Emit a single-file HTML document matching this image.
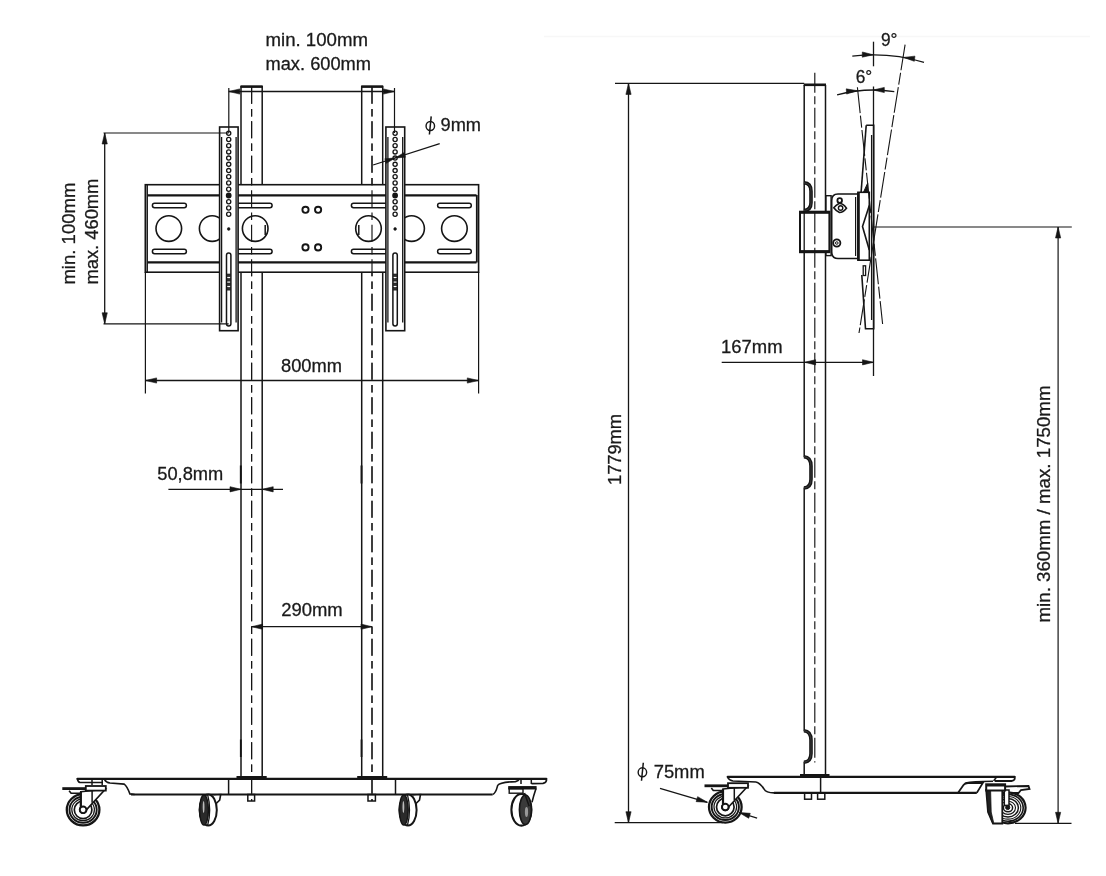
<!DOCTYPE html>
<html><head><meta charset="utf-8"><style>
html,body{margin:0;padding:0;background:#fff;}
svg{display:block;filter:grayscale(100%);}
text{font-family:"Liberation Sans",sans-serif;fill:#1a1a1a;stroke:#1a1a1a;stroke-width:0.28px;}
</style></head><body>
<svg width="1106" height="876" viewBox="0 0 1106 876">
<rect width="1106" height="876" fill="#fff"/>
<line x1="544.00" y1="36.50" x2="1090.00" y2="36.50" stroke="#f7f7f7" stroke-width="1.5" />
<rect x="240.50" y="85.30" width="22.20" height="2.60" rx="0" fill="#151515" stroke="#151515" stroke-width="0"/>
<line x1="241.00" y1="86.00" x2="241.00" y2="184.60" stroke="#151515" stroke-width="1.5" />
<line x1="262.20" y1="86.00" x2="262.20" y2="184.60" stroke="#151515" stroke-width="1.5" />
<line x1="241.00" y1="272.20" x2="241.00" y2="776.50" stroke="#151515" stroke-width="1.5" />
<line x1="262.20" y1="272.20" x2="262.20" y2="776.50" stroke="#151515" stroke-width="1.5" />
<line x1="251.60" y1="83.00" x2="251.60" y2="801.00" stroke="#151515" stroke-width="1.15" stroke-dasharray="17 5.2 7.5 4.8" stroke-dashoffset="30.8"/>
<rect x="236.50" y="776.00" width="30.20" height="2.80" rx="0" fill="#151515" stroke="#151515" stroke-width="0"/>
<line x1="240.80" y1="465.50" x2="240.80" y2="483.50" stroke="#151515" stroke-width="1.9" />
<line x1="240.80" y1="739.50" x2="240.80" y2="757.00" stroke="#151515" stroke-width="1.8" />
<rect x="361.20" y="85.30" width="22.00" height="2.60" rx="0" fill="#151515" stroke="#151515" stroke-width="0"/>
<line x1="361.70" y1="86.00" x2="361.70" y2="184.60" stroke="#151515" stroke-width="1.5" />
<line x1="382.70" y1="86.00" x2="382.70" y2="184.60" stroke="#151515" stroke-width="1.5" />
<line x1="361.70" y1="272.20" x2="361.70" y2="776.50" stroke="#151515" stroke-width="1.5" />
<line x1="382.70" y1="272.20" x2="382.70" y2="776.50" stroke="#151515" stroke-width="1.5" />
<line x1="372.00" y1="83.00" x2="372.00" y2="801.00" stroke="#151515" stroke-width="1.15" stroke-dasharray="17 5.2 7.5 4.8" stroke-dashoffset="30.8"/>
<rect x="357.20" y="776.00" width="30.00" height="2.80" rx="0" fill="#151515" stroke="#151515" stroke-width="0"/>
<line x1="361.50" y1="465.50" x2="361.50" y2="483.50" stroke="#151515" stroke-width="1.9" />
<line x1="361.50" y1="739.50" x2="361.50" y2="757.00" stroke="#151515" stroke-width="1.8" />
<rect x="145.30" y="184.70" width="333.30" height="87.50" rx="0" fill="white" stroke="#151515" stroke-width="1.6"/>
<line x1="147.50" y1="195.30" x2="476.50" y2="195.30" stroke="#151515" stroke-width="2.2" />
<line x1="147.50" y1="262.40" x2="476.50" y2="262.40" stroke="#151515" stroke-width="2.2" />
<line x1="147.20" y1="184.70" x2="147.20" y2="272.20" stroke="#151515" stroke-width="1.5" />
<line x1="476.80" y1="195.00" x2="476.80" y2="262.50" stroke="#151515" stroke-width="1.8" />
<rect x="152.40" y="203.30" width="34.00" height="4.40" rx="2.2" fill="none" stroke="#151515" stroke-width="1.5"/>
<rect x="237.00" y="203.30" width="35.10" height="4.40" rx="2.2" fill="none" stroke="#151515" stroke-width="1.5"/>
<rect x="351.40" y="203.30" width="35.60" height="4.40" rx="2.2" fill="none" stroke="#151515" stroke-width="1.5"/>
<rect x="437.60" y="203.30" width="33.70" height="4.40" rx="2.2" fill="none" stroke="#151515" stroke-width="1.5"/>
<rect x="152.40" y="249.30" width="34.00" height="4.40" rx="2.2" fill="none" stroke="#151515" stroke-width="1.5"/>
<rect x="237.00" y="249.30" width="35.10" height="4.40" rx="2.2" fill="none" stroke="#151515" stroke-width="1.5"/>
<rect x="351.40" y="249.30" width="35.60" height="4.40" rx="2.2" fill="none" stroke="#151515" stroke-width="1.5"/>
<rect x="437.60" y="249.30" width="33.70" height="4.40" rx="2.2" fill="none" stroke="#151515" stroke-width="1.5"/>
<circle cx="168.80" cy="228.60" r="12.80" fill="none" stroke="#151515" stroke-width="1.6"/>
<circle cx="212.20" cy="228.60" r="12.80" fill="none" stroke="#151515" stroke-width="1.6"/>
<circle cx="255.20" cy="228.60" r="12.80" fill="none" stroke="#151515" stroke-width="1.6"/>
<circle cx="368.50" cy="228.60" r="12.80" fill="none" stroke="#151515" stroke-width="1.6"/>
<circle cx="411.60" cy="228.60" r="12.80" fill="none" stroke="#151515" stroke-width="1.6"/>
<circle cx="454.40" cy="228.60" r="12.80" fill="none" stroke="#151515" stroke-width="1.6"/>
<line x1="265.20" y1="225.00" x2="265.20" y2="235.00" stroke="#151515" stroke-width="1.5" />
<line x1="358.80" y1="225.00" x2="358.80" y2="235.00" stroke="#151515" stroke-width="1.5" />
<circle cx="305.50" cy="209.80" r="3.10" fill="none" stroke="#151515" stroke-width="1.9"/>
<circle cx="318.10" cy="209.80" r="3.10" fill="none" stroke="#151515" stroke-width="1.9"/>
<circle cx="305.50" cy="247.40" r="3.10" fill="none" stroke="#151515" stroke-width="1.9"/>
<circle cx="318.10" cy="247.40" r="3.10" fill="none" stroke="#151515" stroke-width="1.9"/>
<line x1="251.60" y1="83.00" x2="251.60" y2="801.00" stroke="#151515" stroke-width="1.15" stroke-dasharray="17 5.2 7.5 4.8" stroke-dashoffset="30.8"/>
<line x1="372.00" y1="83.00" x2="372.00" y2="801.00" stroke="#151515" stroke-width="1.15" stroke-dasharray="17 5.2 7.5 4.8" stroke-dashoffset="30.8"/>
<rect x="219.60" y="127.00" width="18.50" height="203.70" rx="0" fill="white" stroke="#151515" stroke-width="1.6"/>
<line x1="221.60" y1="137.00" x2="221.60" y2="322.50" stroke="#151515" stroke-width="1.3" />
<line x1="236.10" y1="137.00" x2="236.10" y2="322.50" stroke="#151515" stroke-width="1.3" />
<circle cx="228.70" cy="133.20" r="2.10" fill="white" stroke="#151515" stroke-width="1.3"/>
<circle cx="228.70" cy="139.43" r="2.10" fill="white" stroke="#151515" stroke-width="1.3"/>
<circle cx="228.70" cy="145.66" r="2.10" fill="white" stroke="#151515" stroke-width="1.3"/>
<circle cx="228.70" cy="151.89" r="2.10" fill="white" stroke="#151515" stroke-width="1.3"/>
<circle cx="228.70" cy="158.12" r="2.10" fill="white" stroke="#151515" stroke-width="1.3"/>
<circle cx="228.70" cy="164.35" r="2.10" fill="white" stroke="#151515" stroke-width="1.3"/>
<circle cx="228.70" cy="170.58" r="2.10" fill="white" stroke="#151515" stroke-width="1.3"/>
<circle cx="228.70" cy="176.81" r="2.10" fill="white" stroke="#151515" stroke-width="1.3"/>
<circle cx="228.70" cy="183.04" r="2.10" fill="white" stroke="#151515" stroke-width="1.3"/>
<circle cx="228.70" cy="189.27" r="2.10" fill="white" stroke="#151515" stroke-width="1.3"/>
<circle cx="228.70" cy="195.50" r="2.10" fill="#151515" stroke="#151515" stroke-width="1.6"/>
<circle cx="228.70" cy="201.73" r="2.10" fill="white" stroke="#151515" stroke-width="1.3"/>
<circle cx="228.70" cy="207.96" r="2.10" fill="white" stroke="#151515" stroke-width="1.3"/>
<circle cx="228.70" cy="214.19" r="2.10" fill="white" stroke="#151515" stroke-width="1.3"/>
<circle cx="228.70" cy="229.00" r="1.40" fill="#151515" stroke="#151515" stroke-width="0.5"/>
<rect x="226.50" y="253.00" width="4.40" height="73.00" rx="2.2" fill="white" stroke="#151515" stroke-width="1.5"/>
<rect x="226.90" y="274.00" width="3.60" height="2.60" rx="0" fill="#333" stroke="#151515" stroke-width="0.6"/>
<rect x="226.90" y="278.50" width="3.60" height="2.60" rx="0" fill="#333" stroke="#151515" stroke-width="0.6"/>
<rect x="226.90" y="283.00" width="3.60" height="2.60" rx="0" fill="#333" stroke="#151515" stroke-width="0.6"/>
<rect x="226.90" y="287.50" width="3.60" height="2.60" rx="0" fill="#333" stroke="#151515" stroke-width="0.6"/>
<rect x="385.90" y="127.00" width="18.80" height="203.70" rx="0" fill="white" stroke="#151515" stroke-width="1.6"/>
<line x1="387.90" y1="137.00" x2="387.90" y2="322.50" stroke="#151515" stroke-width="1.3" />
<line x1="402.70" y1="137.00" x2="402.70" y2="322.50" stroke="#151515" stroke-width="1.3" />
<circle cx="395.10" cy="133.20" r="2.10" fill="white" stroke="#151515" stroke-width="1.3"/>
<circle cx="395.10" cy="139.43" r="2.10" fill="white" stroke="#151515" stroke-width="1.3"/>
<circle cx="395.10" cy="145.66" r="2.10" fill="white" stroke="#151515" stroke-width="1.3"/>
<circle cx="395.10" cy="151.89" r="2.10" fill="white" stroke="#151515" stroke-width="1.3"/>
<circle cx="395.10" cy="158.12" r="2.10" fill="white" stroke="#151515" stroke-width="1.3"/>
<circle cx="395.10" cy="164.35" r="2.10" fill="white" stroke="#151515" stroke-width="1.3"/>
<circle cx="395.10" cy="170.58" r="2.10" fill="white" stroke="#151515" stroke-width="1.3"/>
<circle cx="395.10" cy="176.81" r="2.10" fill="white" stroke="#151515" stroke-width="1.3"/>
<circle cx="395.10" cy="183.04" r="2.10" fill="white" stroke="#151515" stroke-width="1.3"/>
<circle cx="395.10" cy="189.27" r="2.10" fill="white" stroke="#151515" stroke-width="1.3"/>
<circle cx="395.10" cy="195.50" r="2.10" fill="#151515" stroke="#151515" stroke-width="1.6"/>
<circle cx="395.10" cy="201.73" r="2.10" fill="white" stroke="#151515" stroke-width="1.3"/>
<circle cx="395.10" cy="207.96" r="2.10" fill="white" stroke="#151515" stroke-width="1.3"/>
<circle cx="395.10" cy="214.19" r="2.10" fill="white" stroke="#151515" stroke-width="1.3"/>
<circle cx="395.10" cy="229.00" r="1.40" fill="#151515" stroke="#151515" stroke-width="0.5"/>
<rect x="392.90" y="253.00" width="4.40" height="73.00" rx="2.2" fill="white" stroke="#151515" stroke-width="1.5"/>
<rect x="393.30" y="274.00" width="3.60" height="2.60" rx="0" fill="#333" stroke="#151515" stroke-width="0.6"/>
<rect x="393.30" y="278.50" width="3.60" height="2.60" rx="0" fill="#333" stroke="#151515" stroke-width="0.6"/>
<rect x="393.30" y="283.00" width="3.60" height="2.60" rx="0" fill="#333" stroke="#151515" stroke-width="0.6"/>
<rect x="393.30" y="287.50" width="3.60" height="2.60" rx="0" fill="#333" stroke="#151515" stroke-width="0.6"/>
<line x1="228.80" y1="88.00" x2="228.80" y2="133.00" stroke="#151515" stroke-width="1.2" />
<line x1="394.50" y1="88.00" x2="394.50" y2="133.00" stroke="#151515" stroke-width="1.2" />
<line x1="228.80" y1="91.50" x2="394.40" y2="91.50" stroke="#151515" stroke-width="1.3" />
<path d="M228.80,91.50 L239.80,88.90 L239.80,94.10 Z" fill="#151515" stroke="#151515" stroke-width="0.6"/>
<path d="M394.40,91.50 L383.40,94.10 L383.40,88.90 Z" fill="#151515" stroke="#151515" stroke-width="0.6"/>
<text x="265.5" y="45.9" font-size="17.5" textLength="102.5" lengthAdjust="spacingAndGlyphs">min. 100mm</text>
<text x="265.5" y="69.8" font-size="17.5" textLength="105.5" lengthAdjust="spacingAndGlyphs">max. 600mm</text>
<line x1="373.10" y1="165.00" x2="439.70" y2="143.70" stroke="#151515" stroke-width="1.3" />
<path d="M395.10,158.00 L386.31,163.33 L384.84,158.76 Z" fill="#151515" stroke="#151515" stroke-width="0.6"/>
<path d="M395.10,158.00 L403.89,152.67 L405.36,157.24 Z" fill="#151515" stroke="#151515" stroke-width="0.6"/>
<ellipse cx="430.30" cy="126.00" rx="4.25" ry="4.50" fill="none" stroke="#151515" stroke-width="1.4"/>
<line x1="431.20" y1="116.40" x2="429.40" y2="134.50" stroke="#151515" stroke-width="1.5" />
<text x="440.5" y="130.9" font-size="17.5" textLength="40.5" lengthAdjust="spacingAndGlyphs">9mm</text>
<line x1="103.50" y1="133.00" x2="228.70" y2="133.00" stroke="#151515" stroke-width="1.2" />
<line x1="103.50" y1="323.80" x2="228.70" y2="323.80" stroke="#151515" stroke-width="1.2" />
<line x1="104.70" y1="133.00" x2="104.70" y2="323.80" stroke="#151515" stroke-width="1.3" />
<path d="M104.70,133.00 L107.30,144.00 L102.10,144.00 Z" fill="#151515" stroke="#151515" stroke-width="0.6"/>
<path d="M104.70,323.80 L102.10,312.80 L107.30,312.80 Z" fill="#151515" stroke="#151515" stroke-width="0.6"/>
<text x="0" y="0" transform="translate(75.3,284.6) rotate(-90)" font-size="17.5" textLength="102" lengthAdjust="spacingAndGlyphs">min. 100mm</text>
<text x="0" y="0" transform="translate(97.8,284.6) rotate(-90)" font-size="17.5" textLength="106" lengthAdjust="spacingAndGlyphs">max. 460mm</text>
<line x1="145.40" y1="272.00" x2="145.40" y2="393.50" stroke="#151515" stroke-width="1.2" />
<line x1="478.60" y1="272.00" x2="478.60" y2="393.50" stroke="#151515" stroke-width="1.2" />
<line x1="145.60" y1="380.50" x2="478.30" y2="380.50" stroke="#151515" stroke-width="1.3" />
<path d="M145.60,380.50 L156.60,377.90 L156.60,383.10 Z" fill="#151515" stroke="#151515" stroke-width="0.6"/>
<path d="M478.30,380.50 L467.30,383.10 L467.30,377.90 Z" fill="#151515" stroke="#151515" stroke-width="0.6"/>
<text x="281" y="372" font-size="17.5" textLength="61" lengthAdjust="spacingAndGlyphs">800mm</text>
<line x1="168.40" y1="489.30" x2="283.00" y2="489.30" stroke="#151515" stroke-width="1.3" />
<path d="M241.00,489.30 L230.00,491.90 L230.00,486.70 Z" fill="#151515" stroke="#151515" stroke-width="0.6"/>
<path d="M262.20,489.30 L273.20,486.70 L273.20,491.90 Z" fill="#151515" stroke="#151515" stroke-width="0.6"/>
<text x="157.3" y="480.2" font-size="17.5" textLength="66" lengthAdjust="spacingAndGlyphs">50,8mm</text>
<line x1="251.60" y1="626.70" x2="372.00" y2="626.70" stroke="#151515" stroke-width="1.3" />
<path d="M251.60,626.70 L262.60,624.10 L262.60,629.30 Z" fill="#151515" stroke="#151515" stroke-width="0.6"/>
<path d="M372.00,626.70 L361.00,629.30 L361.00,624.10 Z" fill="#151515" stroke="#151515" stroke-width="0.6"/>
<text x="281.2" y="615.8" font-size="17.5" textLength="61.5" lengthAdjust="spacingAndGlyphs">290mm</text>
<line x1="77.40" y1="778.80" x2="546.30" y2="778.80" stroke="#151515" stroke-width="2.2" stroke-linecap="round"/>
<line x1="131.00" y1="794.50" x2="492.60" y2="794.50" stroke="#151515" stroke-width="2.2" />
<path d="M104.6,779.6 Q106,782.5 110,783 L124.2,784.1 Q127,786 129.9,793.9 L134.7,794.5" fill="none" stroke="#151515" stroke-width="1.6" />
<line x1="228.60" y1="779.00" x2="228.60" y2="794.50" stroke="#151515" stroke-width="1.5" />
<line x1="395.50" y1="779.00" x2="395.50" y2="794.50" stroke="#151515" stroke-width="1.5" />
<rect x="247.80" y="794.50" width="6.80" height="6.50" rx="0" fill="none" stroke="#151515" stroke-width="1.5"/>
<rect x="368.00" y="794.50" width="7.40" height="6.50" rx="0" fill="none" stroke="#151515" stroke-width="1.5"/>
<ellipse cx="83.10" cy="809.80" rx="16.30" ry="15.60" fill="white" stroke="#151515" stroke-width="2.3"/>
<ellipse cx="83.10" cy="809.80" rx="13.60" ry="13.00" fill="none" stroke="#151515" stroke-width="1.9"/>
<ellipse cx="83.10" cy="809.80" rx="11.30" ry="10.90" fill="none" stroke="#151515" stroke-width="1.2"/>
<circle cx="83.10" cy="809.80" r="8.80" fill="none" stroke="#151515" stroke-width="1.7"/>
<circle cx="83.10" cy="809.80" r="3.30" fill="white" stroke="#151515" stroke-width="1.9"/>
<path d="M80.80,791.80 L105.30,789.30 L86.10,810.10 L80.80,806.80 Z" fill="white" stroke="#151515" stroke-width="1.6" />
<line x1="80.80" y1="791.80" x2="80.80" y2="806.80" stroke="#151515" stroke-width="2.2" />
<line x1="92.10" y1="789.80" x2="92.10" y2="802.80" stroke="#151515" stroke-width="1.5" />
<circle cx="83.10" cy="809.80" r="3.30" fill="white" stroke="#151515" stroke-width="1.9"/>
<rect x="85.80" y="786.00" width="20.00" height="4.60" rx="0" fill="white" stroke="#151515" stroke-width="1.8"/>
<path d="M62.30,788.60 L85.80,788.60" fill="none" stroke="#151515" stroke-width="2.8" />
<path d="M69.10,790.80 L71.10,793.30 L80.80,793.30" fill="none" stroke="#151515" stroke-width="1.6" />
<path d="M77.4,779 Q78,782 80,782.5 L103,782.5" fill="none" stroke="#151515" stroke-width="1.6" />
<line x1="92.00" y1="779.00" x2="92.00" y2="785.00" stroke="#151515" stroke-width="1.5" />
<line x1="102.20" y1="779.00" x2="102.20" y2="785.00" stroke="#151515" stroke-width="1.5" />
<path d="M213.2,795 L220.7,794.5 L219.7,800 L215.7,804" fill="white" stroke="#151515" stroke-width="1.6" />
<ellipse cx="208.20" cy="810.00" rx="8.60" ry="15.60" fill="white" stroke="#151515" stroke-width="2.0"/>
<ellipse cx="204.00" cy="810.00" rx="4.40" ry="15.00" fill="#2a2a2a" stroke="#151515" stroke-width="1.5"/>
<ellipse cx="203.60" cy="807.00" rx="0.90" ry="6.00" fill="#bbb" stroke="#151515" stroke-width="0"/>
<path d="M207.7,794.8 Q211.7,810 207.7,825.2" fill="none" stroke="#151515" stroke-width="1.3" />
<path d="M413,795 L420.5,794.5 L419.5,800 L415.5,804" fill="white" stroke="#151515" stroke-width="1.6" />
<ellipse cx="408.00" cy="810.00" rx="8.60" ry="15.60" fill="white" stroke="#151515" stroke-width="2.0"/>
<ellipse cx="403.80" cy="810.00" rx="4.40" ry="15.00" fill="#2a2a2a" stroke="#151515" stroke-width="1.5"/>
<ellipse cx="403.40" cy="807.00" rx="0.90" ry="6.00" fill="#bbb" stroke="#151515" stroke-width="0"/>
<path d="M407.5,794.8 Q411.5,810 407.5,825.2" fill="none" stroke="#151515" stroke-width="1.3" />
<path d="M492.6,794.5 Q495.5,794 497.7,785.4 Q500,782 515.5,781.6 Q518.5,781 519.5,779" fill="none" stroke="#151515" stroke-width="1.6" />
<path d="M546.3,779 Q547,782.5 543,783.4 L531.5,783.6" fill="none" stroke="#151515" stroke-width="1.8" />
<line x1="521.00" y1="779.00" x2="521.00" y2="784.00" stroke="#151515" stroke-width="1.5" />
<line x1="531.30" y1="779.00" x2="531.30" y2="784.00" stroke="#151515" stroke-width="1.5" />
<path d="M536,788.5 Q533.5,796 532,802.2" fill="none" stroke="#151515" stroke-width="1.6" />
<ellipse cx="521.40" cy="809.80" rx="10.00" ry="15.80" fill="white" stroke="#151515" stroke-width="2.1"/>
<ellipse cx="525.40" cy="809.80" rx="6.00" ry="14.80" fill="#3a3a3a" stroke="#151515" stroke-width="1.6"/>
<ellipse cx="526.50" cy="812.00" rx="1.60" ry="5.00" fill="#999" stroke="#151515" stroke-width="0"/>
<path d="M524.5,793 L529.2,806.3" fill="none" stroke="#151515" stroke-width="1.6" />
<rect x="508.70" y="786.60" width="27.40" height="2.40" rx="0" fill="#151515" stroke="#151515" stroke-width="1.0"/>
<rect x="509.20" y="789.00" width="13.80" height="4.20" rx="0" fill="white" stroke="#151515" stroke-width="1.4"/>
<rect x="803.70" y="83.50" width="22.30" height="2.60" rx="0" fill="#151515" stroke="#151515" stroke-width="0"/>
<line x1="804.20" y1="85.00" x2="804.20" y2="774.50" stroke="#151515" stroke-width="1.5" />
<line x1="825.50" y1="85.00" x2="825.50" y2="774.50" stroke="#151515" stroke-width="1.5" />
<line x1="814.80" y1="70.00" x2="814.80" y2="762.50" stroke="#151515" stroke-width="1.15" stroke-dasharray="20 3.5 8 3.5" stroke-dashoffset="32.3"/>
<path d="M803.9000000000001,182.8 Q811.0,183.3 811.0,191.14000000000001 L811.0,202.816 Q811.0,210.1 803.9000000000001,210.6" fill="none" stroke="#151515" stroke-width="3.6" />
<path d="M803.9000000000001,182.8 Q811.0,183.3 811.0,191.14000000000001 L811.0,202.816 Q811.0,210.1 803.9000000000001,210.6" fill="none" stroke="#555" stroke-width="0.6" />
<rect x="803.00" y="457.20" width="2.40" height="30.30" rx="0" fill="white" stroke="none" stroke-width="0"/>
<path d="M803.9000000000001,456.7 Q811.0,457.2 811.0,466.09 L811.0,479.236 Q811.0,487.5 803.9000000000001,488" fill="none" stroke="#151515" stroke-width="3.6" />
<path d="M803.9000000000001,456.7 Q811.0,457.2 811.0,466.09 L811.0,479.236 Q811.0,487.5 803.9000000000001,488" fill="none" stroke="#555" stroke-width="0.6" />
<rect x="803.00" y="731.30" width="2.40" height="30.40" rx="0" fill="white" stroke="none" stroke-width="0"/>
<path d="M803.9000000000001,730.8 Q811.0,731.3 811.0,740.22 L811.0,753.408 Q811.0,761.7 803.9000000000001,762.2" fill="none" stroke="#151515" stroke-width="3.6" />
<path d="M803.9000000000001,730.8 Q811.0,731.3 811.0,740.22 L811.0,753.408 Q811.0,761.7 803.9000000000001,762.2" fill="none" stroke="#555" stroke-width="0.6" />
<rect x="826.00" y="195.70" width="5.10" height="59.90" rx="0" fill="white" stroke="#151515" stroke-width="1.4"/>
<rect x="800.00" y="211.70" width="29.40" height="40.50" rx="0" fill="white" stroke="#151515" stroke-width="2.0"/>
<line x1="800.00" y1="212.50" x2="829.40" y2="212.50" stroke="#151515" stroke-width="2.6" />
<line x1="800.00" y1="251.40" x2="829.40" y2="251.40" stroke="#151515" stroke-width="2.6" />
<line x1="814.80" y1="211.70" x2="814.80" y2="252.20" stroke="#151515" stroke-width="1.15" stroke-dasharray="20 3.5 8 3.5" stroke-dashoffset="174.0"/>
<line x1="804.20" y1="212.00" x2="804.20" y2="252.00" stroke="#151515" stroke-width="1.3" />
<path d="M857.4,194 L838,194 Q831.7,194 831.7,200.5 L831.7,252 Q831.7,258.5 838,258.5 L857.4,258.5" fill="white" stroke="#151515" stroke-width="1.6" />
<line x1="855.60" y1="197.00" x2="855.60" y2="256.00" stroke="#151515" stroke-width="1.2" />
<circle cx="839.70" cy="200.50" r="2.30" fill="none" stroke="#151515" stroke-width="1.8"/>
<path d="M833.8,207.8 Q836,205 839,203.5 Q843,203 846.5,208.2 Q843,212.5 839.5,212.5 Q836,211 833.8,207.8 Z" fill="white" stroke="#151515" stroke-width="1.6" />
<circle cx="840.60" cy="208.00" r="2.20" fill="none" stroke="#151515" stroke-width="1.4"/>
<circle cx="836.80" cy="243.00" r="3.60" fill="none" stroke="#151515" stroke-width="1.8"/>
<circle cx="836.80" cy="243.00" r="1.30" fill="none" stroke="#151515" stroke-width="1.0"/>
<rect x="857.90" y="192.30" width="11.40" height="67.90" rx="0" fill="white" stroke="#151515" stroke-width="1.6"/>
<line x1="858.50" y1="192.30" x2="858.50" y2="260.20" stroke="#151515" stroke-width="2.6" />
<path d="M869.3,205.4 L862.5,226.5 L869.3,250" fill="none" stroke="#151515" stroke-width="1.6" />
<path d="M866.2,125.2 L873.7,125.2 L873.7,328.7 L865.5,328.7 L861.8,275" fill="none" stroke="#151515" stroke-width="1.6" />
<path d="M866.2,125.2 L861.1,192.2" fill="none" stroke="#151515" stroke-width="1.6" />
<line x1="871.60" y1="135.00" x2="871.60" y2="320.00" stroke="#151515" stroke-width="1.3" />
<path d="M863.6,192 L867.7,183 L867.7,192 Z" fill="#151515" stroke="#151515" stroke-width="1.0" />
<rect x="863.20" y="265.80" width="2.40" height="9.70" rx="0" fill="none" stroke="#151515" stroke-width="1.3"/>
<line x1="873.50" y1="41.70" x2="873.50" y2="66.30" stroke="#151515" stroke-width="1.3" />
<line x1="873.50" y1="86.50" x2="873.50" y2="376.00" stroke="#151515" stroke-width="1.3" />
<line x1="905.10" y1="44.60" x2="859.00" y2="333.00" stroke="#151515" stroke-width="1.1" stroke-dasharray="26 2.5 12 2.5"/>
<line x1="857.40" y1="87.30" x2="882.60" y2="324.00" stroke="#151515" stroke-width="1.1" stroke-dasharray="26 2.5 12 2.5"/>
<path d="M852.3,56.2 A173.2,173.2 0 0 1 924,62.3" fill="none" stroke="#151515" stroke-width="1.3" />
<path d="M873.30,54.80 L862.25,57.18 L862.35,51.98 Z" fill="#151515" stroke="#151515" stroke-width="0.6"/>
<path d="M903.70,57.40 L914.93,56.13 L914.31,61.29 Z" fill="#151515" stroke="#151515" stroke-width="0.6"/>
<path d="M837.1,94.9 A138,138 0 0 1 894.3,91.6" fill="none" stroke="#151515" stroke-width="1.3" />
<path d="M857.40,90.70 L846.61,94.06 L846.25,88.87 Z" fill="#151515" stroke="#151515" stroke-width="0.6"/>
<path d="M873.30,90.00 L884.30,87.40 L884.30,92.60 Z" fill="#151515" stroke="#151515" stroke-width="0.6"/>
<text x="881" y="46.3" font-size="17.5" textLength="16.5" lengthAdjust="spacingAndGlyphs">9°</text>
<text x="855.7" y="83.2" font-size="17.5" textLength="16.5" lengthAdjust="spacingAndGlyphs">6°</text>
<line x1="721.70" y1="362.30" x2="873.60" y2="362.30" stroke="#151515" stroke-width="1.3" />
<path d="M804.60,362.30 L815.60,359.70 L815.60,364.90 Z" fill="#151515" stroke="#151515" stroke-width="0.6"/>
<path d="M873.50,362.30 L862.50,364.90 L862.50,359.70 Z" fill="#151515" stroke="#151515" stroke-width="0.6"/>
<text x="721" y="352.7" font-size="17.5" textLength="61.5" lengthAdjust="spacingAndGlyphs">167mm</text>
<line x1="873.50" y1="227.00" x2="1071.80" y2="227.00" stroke="#151515" stroke-width="1.2" />
<line x1="1058.10" y1="227.00" x2="1058.10" y2="823.30" stroke="#151515" stroke-width="1.2" />
<path d="M1058.10,227.00 L1060.70,238.00 L1055.50,238.00 Z" fill="#151515" stroke="#151515" stroke-width="0.6"/>
<path d="M1058.10,823.30 L1055.50,812.30 L1060.70,812.30 Z" fill="#151515" stroke="#151515" stroke-width="0.6"/>
<text x="0" y="0" transform="translate(1049.8,622.5) rotate(-90)" font-size="17.5" textLength="237" lengthAdjust="spacingAndGlyphs">min. 360mm / max. 1750mm</text>
<line x1="615.00" y1="83.40" x2="804.20" y2="83.40" stroke="#151515" stroke-width="1.3" />
<line x1="628.50" y1="83.40" x2="628.50" y2="822.70" stroke="#151515" stroke-width="1.3" />
<path d="M628.50,83.40 L631.10,94.40 L625.90,94.40 Z" fill="#151515" stroke="#151515" stroke-width="0.6"/>
<path d="M628.50,822.70 L625.90,811.70 L631.10,811.70 Z" fill="#151515" stroke="#151515" stroke-width="0.6"/>
<text x="0" y="0" transform="translate(621.2,485) rotate(-90)" font-size="17.5" textLength="71" lengthAdjust="spacingAndGlyphs">1779mm</text>
<line x1="614.70" y1="822.70" x2="723.00" y2="822.70" stroke="#151515" stroke-width="1.3" />
<line x1="1015.00" y1="823.30" x2="1071.50" y2="823.30" stroke="#151515" stroke-width="1.3" />
<line x1="727.70" y1="776.80" x2="1014.60" y2="776.80" stroke="#151515" stroke-width="2.2" stroke-linecap="round"/>
<line x1="774.00" y1="792.90" x2="976.80" y2="792.90" stroke="#151515" stroke-width="2.2" />
<path d="M756,782 Q760,783 764,789 Q766,792.9 774,792.9" fill="none" stroke="#151515" stroke-width="1.6" />
<path d="M957.9,792.9 L963.5,785 Q965,783 968,783 L982.8,783 L976.8,792.9" fill="none" stroke="#151515" stroke-width="1.8" />
<path d="M965.6,783 Q972,781.6 993,781.3" fill="none" stroke="#151515" stroke-width="1.5" />
<path d="M1014.6,776.8 Q1015.5,780.6 1011.5,781 L994.8,781" fill="none" stroke="#151515" stroke-width="1.8" />
<line x1="996.80" y1="776.80" x2="993.60" y2="781.00" stroke="#151515" stroke-width="1.5" />
<line x1="820.60" y1="777.00" x2="820.60" y2="793.00" stroke="#151515" stroke-width="1.5" />
<rect x="800.00" y="774.00" width="29.50" height="3.00" rx="0" fill="#151515" stroke="#151515" stroke-width="0"/>
<rect x="804.60" y="793.00" width="6.90" height="6.20" rx="0" fill="none" stroke="#151515" stroke-width="1.5"/>
<rect x="817.60" y="793.00" width="7.20" height="6.20" rx="0" fill="none" stroke="#151515" stroke-width="1.5"/>
<ellipse cx="725.30" cy="807.00" rx="16.30" ry="15.60" fill="white" stroke="#151515" stroke-width="2.3"/>
<ellipse cx="725.30" cy="807.00" rx="13.60" ry="13.00" fill="none" stroke="#151515" stroke-width="1.9"/>
<ellipse cx="725.30" cy="807.00" rx="11.30" ry="10.90" fill="none" stroke="#151515" stroke-width="1.2"/>
<circle cx="725.30" cy="807.00" r="8.80" fill="none" stroke="#151515" stroke-width="1.7"/>
<circle cx="725.30" cy="807.00" r="3.30" fill="white" stroke="#151515" stroke-width="1.9"/>
<path d="M723.00,789.00 L747.50,786.50 L728.30,807.30 L723.00,804.00 Z" fill="white" stroke="#151515" stroke-width="1.6" />
<line x1="723.00" y1="789.00" x2="723.00" y2="804.00" stroke="#151515" stroke-width="2.2" />
<line x1="734.30" y1="787.00" x2="734.30" y2="800.00" stroke="#151515" stroke-width="1.5" />
<circle cx="725.30" cy="807.00" r="3.30" fill="white" stroke="#151515" stroke-width="1.9"/>
<rect x="728.00" y="783.20" width="20.00" height="4.60" rx="0" fill="white" stroke="#151515" stroke-width="1.8"/>
<path d="M704.50,785.80 L728.00,785.80" fill="none" stroke="#151515" stroke-width="2.8" />
<path d="M711.30,788.00 L713.30,790.50 L723.00,790.50" fill="none" stroke="#151515" stroke-width="1.6" />
<path d="M727.5,777 Q729,780.5 733,781 L756,782" fill="none" stroke="#151515" stroke-width="1.6" />
<path d="M660,788.3 L707.4,802.3" fill="none" stroke="#151515" stroke-width="1.3" />
<path d="M707.40,802.30 L696.12,801.63 L697.61,796.65 Z" fill="#151515" stroke="#151515" stroke-width="0.6"/>
<path d="M757.1,818.2 L739,812.5" fill="none" stroke="#151515" stroke-width="1.3" />
<path d="M739.00,812.50 L750.27,813.33 L748.71,818.28 Z" fill="#151515" stroke="#151515" stroke-width="0.6"/>
<ellipse cx="642.40" cy="772.30" rx="4.25" ry="4.50" fill="none" stroke="#151515" stroke-width="1.4"/>
<line x1="643.30" y1="762.70" x2="641.50" y2="780.80" stroke="#151515" stroke-width="1.5" />
<text x="653.7" y="778.1" font-size="17.5" textLength="51" lengthAdjust="spacingAndGlyphs">75mm</text>
<ellipse cx="1008.00" cy="807.80" rx="17.60" ry="15.50" fill="white" stroke="#151515" stroke-width="2.2"/>
<ellipse cx="1008.00" cy="807.80" rx="15.20" ry="13.40" fill="none" stroke="#151515" stroke-width="1.6"/>
<ellipse cx="1008.00" cy="807.80" rx="12.80" ry="11.30" fill="none" stroke="#151515" stroke-width="1.1"/>
<ellipse cx="1008.00" cy="807.80" rx="10.40" ry="9.20" fill="none" stroke="#151515" stroke-width="1.5"/>
<ellipse cx="1008.00" cy="807.80" rx="7.50" ry="6.60" fill="none" stroke="#151515" stroke-width="1.1"/>
<ellipse cx="1008.00" cy="807.80" rx="4.60" ry="4.00" fill="none" stroke="#151515" stroke-width="1.5"/>
<path d="M986.2,790 L988,812 L993,823.5 L1002.3,823.5 L1002.3,790 Z" fill="white" stroke="#151515" stroke-width="1.8" />
<path d="M986.6,790 L988.4,812 L992.3,822.5 L993.6,822.5 L991.2,812 L990.6,790 Z" fill="#222" stroke="#151515" stroke-width="0.8" />
<rect x="1004.30" y="790.00" width="4.70" height="15.40" rx="0" fill="white" stroke="#151515" stroke-width="1.5"/>
<circle cx="1007.70" cy="807.50" r="2.10" fill="#151515" stroke="#151515" stroke-width="1.0"/>
<rect x="986.20" y="784.30" width="18.90" height="6.20" rx="0" fill="white" stroke="#151515" stroke-width="2.0"/>
<line x1="986.20" y1="785.30" x2="1005.10" y2="785.30" stroke="#151515" stroke-width="2.4" />
<path d="M1005,786.5 L1028.5,786 L1029.5,789 L1021,790 L1018.5,793 L1012,793" fill="none" stroke="#151515" stroke-width="1.8" />
</svg></body></html>
